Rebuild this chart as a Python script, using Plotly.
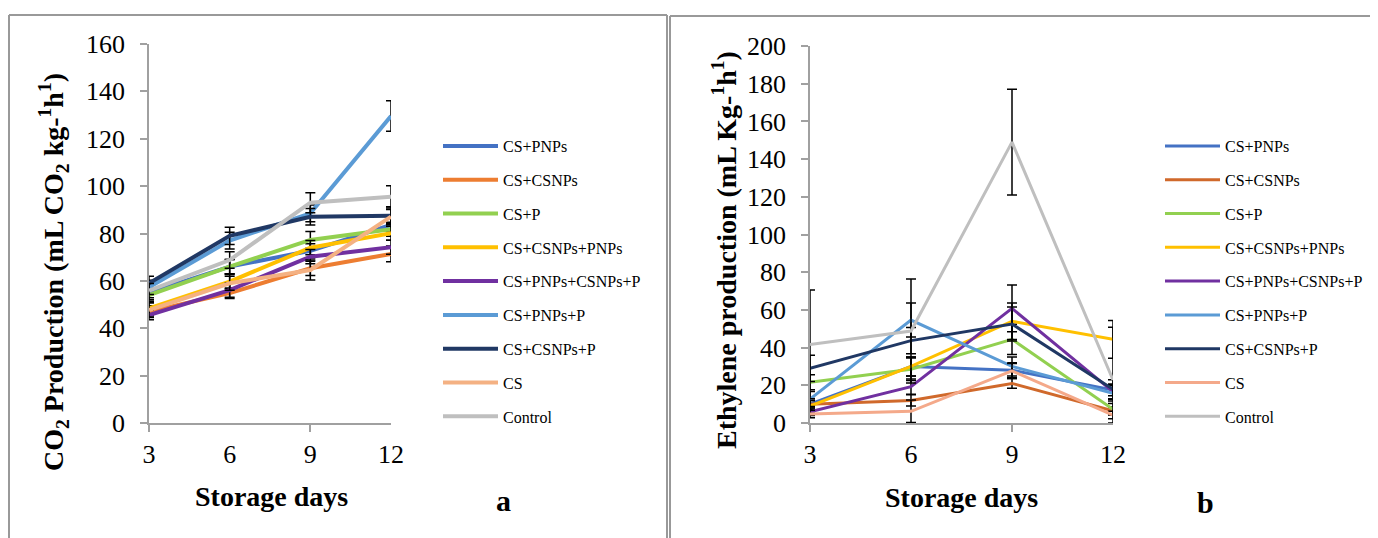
import plotly.graph_objects as go

# ---------------- data ----------------
days = [3, 6, 9, 12]
series_names = ["CS+PNPs", "CS+CSNPs", "CS+P", "CS+CSNPs+PNPs", "CS+PNPs+CSNPs+P",
                "CS+PNPs+P", "CS+CSNPs+P", "CS", "Control"]

# (a) CO2 production
co2_cs_pnps = [55.0, 66.0, 72.7, 83.6]
co2_cs_csnps = [47.0, 54.8, 65.3, 71.4]
co2_cs_p = [54.0, 66.0, 77.3, 81.8]
co2_cs_csnps_pnps = [48.4, 59.7, 74.0, 80.1]
co2_cs_pnps_csnps_p = [45.6, 56.1, 70.2, 74.2]
co2_cs_pnps_p = [57.3, 77.0, 88.5, 129.6]
co2_cs_csnps_p = [59.0, 79.0, 87.1, 87.5]
co2_cs = [47.7, 59.0, 64.6, 87.1]
co2_control = [55.9, 68.8, 93.0, 95.5]

co2_err_cs_pnps = [3, 3, 3, 3]
co2_err_cs_csnps = [2.5, 2.2, 3, 3.3]
co2_err_cs_p = [3, 3, 3.5, 3]
co2_err_cs_csnps_pnps = [3, 3, 3, 3]
co2_err_cs_pnps_csnps_p = [2, 3, 3, 3]
co2_err_cs_pnps_p = [3, 3.5, 3.5, 6.4]
co2_err_cs_csnps_p = [3, 3.6, 3.5, 3.8]
co2_err_cs = [3, 3, 4.2, 3]
co2_err_control = [3, 3.5, 4.2, 4.7]

# (b) Ethylene production
eth_cs_pnps = [10.0, 30.0, 28.0, 17.5]
eth_cs_csnps = [10.0, 12.0, 21.0, 6.5]
eth_cs_p = [21.6, 28.5, 44.4, 7.3]
eth_cs_csnps_pnps = [9.0, 30.0, 54.0, 44.4]
eth_cs_pnps_csnps_p = [6.0, 19.3, 60.8, 16.6]
eth_cs_pnps_p = [12.7, 54.6, 30.0, 15.7]
eth_cs_csnps_p = [29.0, 43.7, 52.5, 17.9]
eth_cs = [4.8, 6.2, 27.6, 4.2]
eth_control = [41.7, 48.8, 149.0, 22.8]

eth_err_cs_pnps = [3, 5, 4, 3]
eth_err_cs_csnps = [2, 3, 2.6, 2]
eth_err_cs_p = [4, 6, 8, 3]
eth_err_cs_csnps_pnps = [3, 5, 9.7, 10]
eth_err_cs_pnps_csnps_p = [2, 4, 12.4, 4]
eth_err_cs_pnps_p = [4, 9, 5, 4]
eth_err_cs_csnps_p = [7, 7, 9, 5]
eth_err_cs = [2, 6, 4, 2]
eth_err_control = [28.8, 27.6, 28, 28]

y_ticks_a = [0, 20, 40, 60, 80, 100, 120, 140, 160]
y_ticks_b = [0, 20, 40, 60, 80, 100, 120, 140, 160, 180, 200]

colors_a = ["#4472C4", "#ED7D31", "#92D050", "#FFC000", "#7030A0",
            "#5B9BD5", "#203864", "#F4B183", "#BFBFBF"]
colors_b = ["#4472C4", "#D0692B", "#92D050", "#FFC000", "#7030A0",
            "#5B9BD5", "#203864", "#F4A98A", "#BFBFBF"]

co2_values = [co2_cs_pnps, co2_cs_csnps, co2_cs_p, co2_cs_csnps_pnps, co2_cs_pnps_csnps_p,
              co2_cs_pnps_p, co2_cs_csnps_p, co2_cs, co2_control]
co2_errors = [co2_err_cs_pnps, co2_err_cs_csnps, co2_err_cs_p, co2_err_cs_csnps_pnps,
              co2_err_cs_pnps_csnps_p, co2_err_cs_pnps_p, co2_err_cs_csnps_p, co2_err_cs,
              co2_err_control]
eth_values = [eth_cs_pnps, eth_cs_csnps, eth_cs_p, eth_cs_csnps_pnps, eth_cs_pnps_csnps_p,
              eth_cs_pnps_p, eth_cs_csnps_p, eth_cs, eth_control]
eth_errors = [eth_err_cs_pnps, eth_err_cs_csnps, eth_err_cs_p, eth_err_cs_csnps_pnps,
              eth_err_cs_pnps_csnps_p, eth_err_cs_pnps_p, eth_err_cs_csnps_p, eth_err_cs,
              eth_err_control]

# ---------------- figure ----------------
# the page body has an 8px margin, so the figure is sized to fill the rest of the window
OFF = 8
W, H = 1378 - OFF, 538 - OFF
SERIF = "Liberation Serif, Times New Roman, serif"
AXIS_GRAY = "#A0A0A0"

fig = go.Figure()

for i, name in enumerate(series_names):
    vals, errs = co2_values[i], co2_errors[i]
    fig.add_trace(go.Scatter(
        x=days, y=vals, name=name, mode="lines",
        line=dict(color=colors_a[i], width=4),
        error_y=dict(type="data", array=errs,
                     arrayminus=[min(e, v) for e, v in zip(errs, vals)],
                     color="black", thickness=1.5, width=5),
        legend="legend", legendgroup="a%d" % i, cliponaxis=False,
        xaxis="x", yaxis="y"))

for i, name in enumerate(series_names):
    vals, errs = eth_values[i], eth_errors[i]
    fig.add_trace(go.Scatter(
        x=days, y=vals, name=name, mode="lines",
        line=dict(color=colors_b[i], width=3),
        error_y=dict(type="data", array=errs,
                     arrayminus=[min(e, v) for e, v in zip(errs, vals)],
                     color="black", thickness=1.5, width=5),
        legend="legend2", legendgroup="b%d" % i, cliponaxis=False,
        xaxis="x2", yaxis="y2"))


def px_x(s):
    """window x pixel -> paper fraction"""
    return (s - OFF) / W


def px_y(s):
    """window y pixel -> paper fraction"""
    return 1 - (s - OFF) / H


xcommon = dict(range=[3, 12], tickvals=days, ticks="", showline=True, linecolor=AXIS_GRAY,
               linewidth=1.5, showgrid=False, zeroline=False, automargin=False,
               tickfont=dict(family=SERIF, size=26, color="black"), ticklabelstandoff=7,
               minor=dict(tickmode="array", tickvals=[3, 9], ticks="outside", ticklen=7,
                          tickcolor=AXIS_GRAY, tickwidth=1.5))
ycommon = dict(ticks="outside", ticklen=7, tickcolor=AXIS_GRAY, tickwidth=1.5, showline=True,
               linecolor=AXIS_GRAY, linewidth=1.5, showgrid=False, zeroline=False,
               automargin=False,
               tickfont=dict(family=SERIF, size=26, color="black"), ticklabelstandoff=10)

legend_common = dict(xanchor="left", yanchor="top",
                     font=dict(family=SERIF, size=16, color="black"), tracegroupgap=10,
                     itemwidth=55, bgcolor="rgba(0,0,0,0)", borderwidth=0)

fig.update_layout(
    width=W, height=H, autosize=False,
    margin=dict(l=0, r=0, t=0, b=0, autoexpand=False),
    paper_bgcolor="white", plot_bgcolor="white",
    xaxis=dict(domain=[px_x(149), px_x(391)], anchor="y", **xcommon),
    yaxis=dict(domain=[px_y(423), px_y(44)], anchor="x", range=[0, 160],
               tickvals=y_ticks_a, **ycommon),
    xaxis2=dict(domain=[px_x(810), px_x(1113)], anchor="y2", **xcommon),
    yaxis2=dict(domain=[px_y(423), px_y(46)], anchor="x2", range=[0, 200],
                tickvals=y_ticks_b, **ycommon),
    legend=dict(x=px_x(438), y=px_y(129), **legend_common),
    legend2=dict(x=px_x(1160), y=px_y(129), **legend_common),
    showlegend=True,
)

# panel frames
frame = dict(type="line", xref="paper", yref="paper", line=dict(color="#999999", width=2),
             layer="below")
fig.add_shape(x0=px_x(9), x1=px_x(667), y0=px_y(15), y1=px_y(15), **frame)
fig.add_shape(x0=px_x(9), x1=px_x(9), y0=px_y(15), y1=0, **frame)
fig.add_shape(x0=px_x(667), x1=px_x(667), y0=px_y(15), y1=0, **frame)
fig.add_shape(x0=px_x(670), x1=1, y0=px_y(16), y1=px_y(16), **frame)
fig.add_shape(x0=px_x(670), x1=px_x(670), y0=px_y(16), y1=0, **frame)

title_font = dict(family=SERIF, size=28, color="black")
annotations = [
    dict(text="CO<sub>2</sub> Production (mL CO<sub>2</sub> kg-<sup>1</sup>h<sup>1</sup>)",
         x=px_x(53), y=px_y(272), textangle=-90),
    dict(text="Ethylene production (mL Kg-<sup>1</sup>h<sup>1</sup>)",
         x=px_x(724), y=px_y(250), textangle=-90),
    dict(text="Storage days", x=px_x(271), y=px_y(496)),
    dict(text="Storage days", x=px_x(961), y=px_y(497)),
]
for a in annotations:
    fig.add_annotation(xref="paper", yref="paper", xanchor="center", yanchor="middle",
                       showarrow=False, font=title_font,
                       text="<b>" + a["text"] + "</b>", x=a["x"], y=a["y"],
                       textangle=a.get("textangle", 0))
for lab, xp, yp in [("a", 503, 500), ("b", 1205, 502)]:
    fig.add_annotation(xref="paper", yref="paper", xanchor="center", yanchor="middle",
                       showarrow=False, font=dict(family=SERIF, size=30, color="black"),
                       text="<b>" + lab + "</b>", x=px_x(xp), y=px_y(yp))

fig.write_html("out.html")
